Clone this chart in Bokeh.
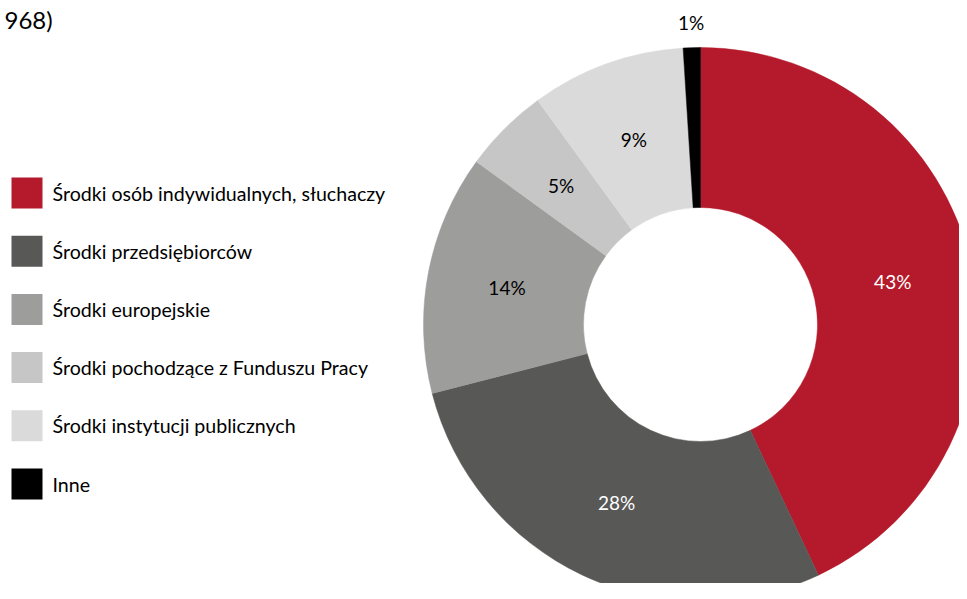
import numpy as np
from bokeh.plotting import figure
from bokeh.models import Range1d, ColumnDataSource
from bokeh.core.properties import value
from bokeh.embed import file_html
from bokeh.resources import INLINE

categories = [
    "Środki osób indywidualnych, słuchaczy",
    "Środki przedsiębiorców",
    "Środki europejskie",
    "Środki pochodzące z Funduszu Pracy",
    "Środki instytucji publicznych",
    "Inne",
]
shares = [43, 28, 14, 5, 9, 1]
colors = ["#B51A2C", "#585857", "#9D9D9C", "#C6C6C6", "#DADADA", "#000000"]
label_colors = ["white", "white", "black", "black", "black", "black"]
title_tail = "968)"

FONT = "Lato"
W, H = 959, 583
# position of donut centre in picture pixels
CX, CY = 700, 324
R_OUT, R_IN = 277, 117

p = figure(width=W, height=H, output_backend="svg", toolbar_location=None,
           x_range=Range1d(0 - CX, W - CX), y_range=Range1d(CY - H, CY),
           min_border=0, outline_line_color=None)
p.axis.visible = False
p.grid.visible = False
p.background_fill_color = "white"

vals = np.array(shares, dtype=float)
frac = vals / vals.sum()
cum_end = np.cumsum(frac)
cum_start = cum_end - frac
start_ang = np.pi / 2 - cum_end * 2 * np.pi
end_ang = np.pi / 2 - cum_start * 2 * np.pi

src = ColumnDataSource(dict(start=start_ang, end=end_ang, color=colors))
p.annular_wedge(x=0, y=0, inner_radius=R_IN, outer_radius=R_OUT,
                start_angle="start", end_angle="end", fill_color="color",
                line_color="color", line_width=0.5, source=src)

mid = np.pi / 2 - (cum_start + frac / 2) * 2 * np.pi
r_lab = np.where(vals < 2, R_OUT + 25, (R_IN + R_OUT) / 2)
lab_src = ColumnDataSource(dict(
    x=r_lab * np.cos(mid), y=r_lab * np.sin(mid),
    text=[f"{int(v)}%" for v in shares], color=label_colors))
p.text(x="x", y="y", text="text", text_color="color", source=lab_src,
       text_align="center", text_baseline="middle",
       text_font=value(FONT), text_font_size="19px")

# legend drawn manually
n = len(categories)
ly = np.array([CY - (192.5 + i * 58.2) for i in range(n)])
p.rect(x=26.5 - CX, y=ly, width=31, height=31, fill_color=colors, line_color=None)
p.text(x=52 - CX, y=ly, text=categories, text_align="left", text_baseline="middle",
       text_font=value(FONT), text_font_size="19.6px", text_color="black")

# title fragment at top
p.text(x=[4 - CX], y=[CY - 19], text=[title_tail], text_align="left",
       text_baseline="alphabetic", text_font=value(FONT), text_font_size="24px",
       text_color="black")

open("out.html", "w").write(file_html(p, INLINE))
